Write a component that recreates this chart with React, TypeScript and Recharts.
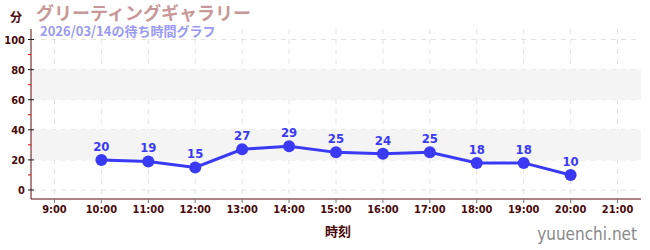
import { CartesianGrid, LabelList, Line, LineChart, ReferenceArea, XAxis, YAxis } from "recharts";

const hours = [10, 11, 12, 13, 14, 15, 16, 17, 18, 19, 20];
const waits = [20, 19, 15, 27, 29, 25, 24, 25, 18, 18, 10];
const hourTicks = [9, 10, 11, 12, 13, 14, 15, 16, 17, 18, 19, 20, 21];
const yTicks = [0, 10, 20, 30, 40, 50, 60, 70, 80, 90, 100];
const yMajor = [0, 20, 40, 60, 80, 100];
const bands = [
  [20, 40],
  [60, 80],
];

const data = hours.map((h, i) => ({ hour: h, wait: waits[i] }));

const maroon = "#4a0a0a";
const blue = "#3a3af5";
const font = "'DejaVu Sans Condensed', 'DejaVu Sans', sans-serif";
const jp = "'Noto Sans CJK JP', sans-serif";

function YTick(props: any) {
  const { x, y, payload } = props;
  const v = payload.value;
  if (v % 20 !== 0) {
    return <line x1={x + 3} x2={x + 6} y1={y} y2={y} stroke="#e00000" strokeWidth={1} />;
  }
  return (
    <g>
      <line x1={x + 3} x2={x + 9} y1={y} y2={y} stroke="#222" strokeWidth={1} />
      <text x={x} y={y} dy={4} textAnchor="end" fill={maroon} fontSize={11} fontWeight="bold" fontFamily={font}>
        {v}
      </text>
    </g>
  );
}

export default function App() {
  return (
    <div style={{ position: "fixed", left: 0, top: 0, width: 650, height: 250, background: "#fff" }}>
      <LineChart width={650} height={250} data={data} margin={{ top: 29, right: 9, bottom: 21, left: 0 }}>
        {bands.map(([a, b]) => (
          <ReferenceArea key={a} y1={a} y2={b} fill="#f4f4f4" fillOpacity={1} stroke="none" ifOverflow="hidden" />
        ))}
        <CartesianGrid
          stroke="#e2e2e2"
          strokeDasharray="5 5"
          horizontalValues={yMajor}
          verticalValues={hourTicks}
        />
        <XAxis
          dataKey="hour"
          type="number"
          domain={[8.5, 21.5]}
          allowDataOverflow
          ticks={hourTicks}
          tickFormatter={(h: number) => `${h}:00`}
          stroke="#5a0a0a"
          tickLine={{ stroke: "#777" }}
          tickSize={4}
          height={30}
          tick={{ fill: maroon, fontSize: 11, fontFamily: font, fontWeight: "bold" }}
        />
        <YAxis
          type="number"
          domain={[-6, 107]}
          allowDataOverflow
          ticks={yTicks}
          interval={0}
          width={31}
          stroke="#5a0a0a"
          tickLine={false}
          tickSize={4}
          tickMargin={2}
          tick={<YTick />}
        />
        <Line
          dataKey="wait"
          stroke={blue}
          strokeWidth={3}
          dot={{ r: 6, fill: blue, stroke: blue, strokeWidth: 0 }}
          activeDot={false}
          isAnimationActive={false}
        >
          <LabelList dataKey="wait" position="top" offset={9} fill={blue} fontSize={13} fontWeight="bold" fontFamily={font} />
        </Line>
        <text x={10} y={22} fill={maroon} fontSize={12} fontWeight="bold" fontFamily={jp}>
          分
        </text>
        <text x={36} y={20} fill="#c89898" fontSize={18} fontWeight="bold" fontFamily={jp}>
          グリーティングギャラリー
        </text>
        <text x={40} y={36} fill="#9a9af5" fontSize={13} fontWeight="bold" fontFamily={jp}>
          2026/03/14の待ち時間グラフ
        </text>
        <text x={338} y={236} textAnchor="middle" fill={maroon} fontSize={13} fontWeight="bold" fontFamily={jp}>
          時刻
        </text>
        <text x={637} y={240} textAnchor="end" fill="#888" fontSize={17} fontFamily={font}>
          yuuenchi.net
        </text>
      </LineChart>
    </div>
  );
}
